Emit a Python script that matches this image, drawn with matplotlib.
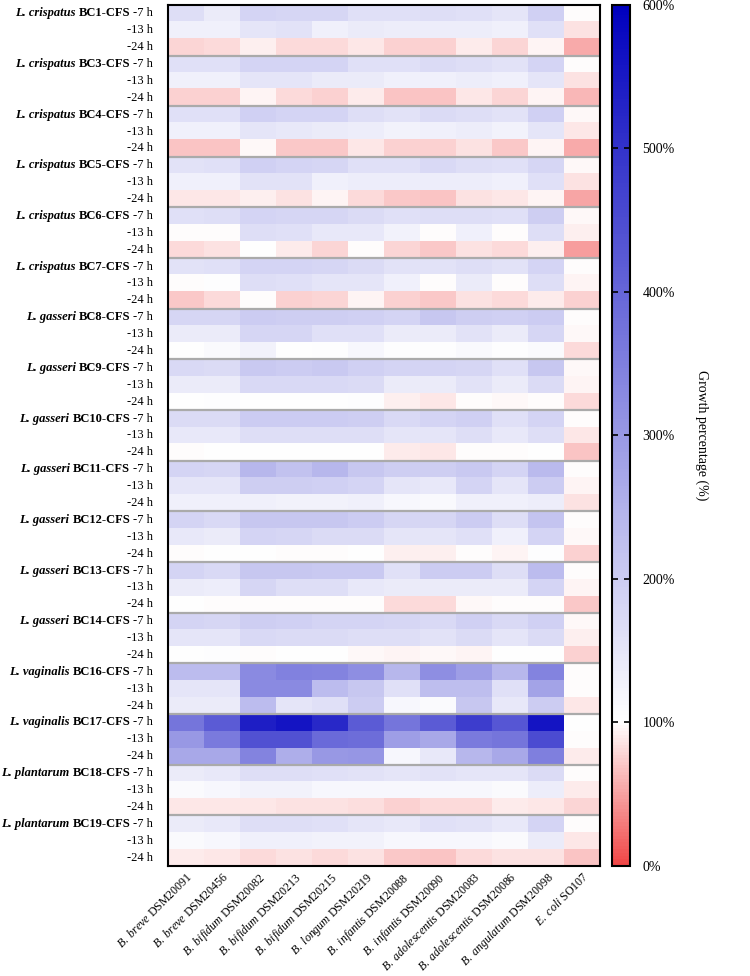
import numpy as np
import matplotlib
matplotlib.use("Agg")
import matplotlib.pyplot as plt
from matplotlib.colors import LinearSegmentedColormap
from matplotlib.transforms import offset_copy

plt.rcParams['font.family'] = ['Liberation Serif', 'DejaVu Serif']
plt.rcParams['mathtext.fontset'] = 'custom'
plt.rcParams['mathtext.rm'] = 'Liberation Serif'
plt.rcParams['mathtext.it'] = 'Liberation Serif:italic'
plt.rcParams['mathtext.bf'] = 'Liberation Serif:bold'

# ---- data ----
columns = [r"$\mathit{B.\ breve}$ DSM20091", r"$\mathit{B.\ breve}$ DSM20456",
           r"$\mathit{B.\ bifidum}$ DSM20082", r"$\mathit{B.\ bifidum}$ DSM20213",
           r"$\mathit{B.\ bifidum}$ DSM20215", r"$\mathit{B.\ longum}$ DSM20219",
           r"$\mathit{B.\ infantis}$ DSM20088", r"$\mathit{B.\ infantis}$ DSM20090",
           r"$\mathit{B.\ adolescentis}$ DSM20083", r"$\mathit{B.\ adolescentis}$ DSM20086",
           r"$\mathit{B.\ angulatum}$ DSM20098", r"$\mathit{E.\ coli}$ SO107"]

group_species = ["L. crispatus"] * 6 + ["L. gasseri"] * 7 + ["L. vaginalis"] * 2 + ["L. plantarum"] * 2
group_strains = ["BC1-CFS", "BC3-CFS", "BC4-CFS", "BC5-CFS", "BC6-CFS", "BC7-CFS",
                 "BC8-CFS", "BC9-CFS", "BC10-CFS", "BC11-CFS", "BC12-CFS", "BC13-CFS",
                 "BC14-CFS", "BC16-CFS", "BC17-CFS", "BC18-CFS", "BC19-CFS"]
times = ["-7 h", "-13 h", "-24 h"]

values = [
    # BC1
    [165, 140, 185, 180, 180, 160, 160, 165, 160, 150, 190, 100],
    [130, 130, 150, 155, 130, 140, 135, 135, 135, 130, 160, 85],
    [78, 80, 92, 82, 82, 88, 75, 75, 90, 78, 95, 55],
    # BC3
    [160, 160, 185, 185, 185, 160, 160, 170, 165, 155, 185, 100],
    [130, 130, 150, 150, 140, 140, 130, 130, 135, 130, 150, 85],
    [75, 75, 95, 80, 75, 90, 70, 70, 88, 78, 96, 62],
    # BC4
    [160, 160, 190, 185, 185, 165, 155, 170, 165, 155, 190, 98],
    [130, 130, 150, 145, 140, 135, 125, 130, 135, 125, 150, 88],
    [68, 68, 97, 72, 72, 88, 75, 75, 85, 72, 95, 55],
    # BC5
    [155, 160, 190, 185, 180, 160, 160, 175, 165, 160, 180, 98],
    [130, 130, 155, 155, 130, 135, 135, 135, 135, 130, 160, 85],
    [88, 88, 92, 85, 95, 82, 72, 70, 85, 88, 95, 52],
    # BC6
    [160, 165, 185, 180, 180, 170, 160, 165, 165, 160, 195, 97],
    [100, 100, 165, 160, 145, 145, 125, 100, 130, 100, 165, 92],
    [82, 85, 103, 90, 78, 100, 78, 72, 85, 82, 93, 48],
    # BC7
    [155, 160, 185, 185, 180, 170, 155, 155, 165, 155, 185, 100],
    [100, 105, 165, 160, 150, 150, 130, 100, 140, 100, 165, 95],
    [72, 80, 100, 75, 78, 94, 75, 72, 85, 82, 90, 75],
    # BC8
    [180, 180, 200, 195, 195, 190, 185, 210, 195, 190, 200, 100],
    [140, 140, 180, 180, 160, 160, 140, 140, 155, 140, 180, 97],
    [103, 108, 125, 102, 105, 115, 105, 105, 112, 105, 108, 82],
    # BC9
    [175, 170, 205, 200, 205, 190, 185, 185, 180, 160, 210, 97],
    [140, 140, 175, 175, 175, 170, 140, 140, 155, 140, 170, 95],
    [102, 105, 103, 102, 102, 105, 92, 88, 100, 98, 100, 80],
    # BC10
    [170, 170, 200, 200, 200, 195, 175, 185, 190, 160, 185, 100],
    [145, 145, 165, 165, 165, 165, 150, 150, 165, 145, 165, 88],
    [100, 102, 102, 101, 101, 102, 90, 88, 100, 100, 101, 70],
    # BC11
    [185, 180, 240, 220, 240, 210, 195, 195, 205, 185, 235, 100],
    [150, 150, 195, 195, 190, 185, 150, 145, 185, 150, 200, 95],
    [130, 130, 130, 125, 125, 130, 115, 112, 130, 130, 135, 85],
    # BC12
    [185, 175, 210, 210, 210, 200, 180, 180, 200, 165, 215, 100],
    [145, 140, 185, 180, 170, 170, 150, 150, 160, 130, 185, 98],
    [100, 102, 103, 100, 100, 103, 93, 92, 100, 95, 105, 75],
    # BC13
    [185, 175, 210, 210, 205, 205, 160, 200, 200, 165, 230, 100],
    [140, 135, 180, 165, 165, 145, 140, 140, 140, 140, 185, 95],
    [103, 100, 100, 100, 100, 100, 82, 82, 97, 100, 100, 72],
    # BC14
    [185, 180, 195, 190, 185, 185, 180, 175, 190, 175, 190, 98],
    [150, 150, 175, 170, 170, 165, 165, 155, 170, 150, 170, 92],
    [102, 105, 100, 102, 102, 98, 96, 97, 95, 102, 103, 75],
    # BC16
    [230, 230, 330, 345, 340, 320, 240, 320, 290, 240, 340, 100],
    [150, 150, 330, 330, 230, 210, 160, 225, 225, 160, 280, 100],
    [140, 140, 230, 150, 160, 200, 115, 110, 210, 145, 200, 88],
    # BC17
    [370, 420, 540, 560, 520, 420, 370, 420, 480, 430, 560, 102],
    [300, 360, 440, 440, 390, 385, 290, 270, 360, 370, 450, 100],
    [270, 270, 340, 260, 300, 305, 115, 145, 240, 270, 350, 90],
    # BC18
    [140, 145, 165, 165, 160, 155, 150, 155, 150, 150, 170, 100],
    [110, 115, 125, 125, 115, 115, 115, 115, 115, 110, 135, 90],
    [88, 88, 88, 85, 85, 83, 75, 80, 82, 90, 88, 78],
    # BC19
    [140, 145, 165, 165, 160, 150, 145, 160, 155, 145, 185, 100],
    [110, 115, 130, 130, 125, 125, 115, 115, 115, 110, 140, 88],
    [90, 87, 82, 85, 80, 85, 72, 70, 82, 85, 85, 70],
]
cbar_ticks = [0, 100, 200, 300, 400, 500, 600]

data = np.array(values, dtype=float)
nrows, ncols = data.shape

cmap = LinearSegmentedColormap.from_list(
    "gp", [(0.0, "#f04646"), (1 / 6, "#ffffff"), (1.0, "#0000be")])

fig = plt.figure(figsize=(7.5, 9.76), dpi=100)
ax = fig.add_axes([0.224, 0.1127, 0.576, 0.8823])
cax = fig.add_axes([0.816, 0.1127, 0.024, 0.8823])

im = ax.imshow(data, cmap=cmap, vmin=0, vmax=600, aspect='auto',
               interpolation='nearest')

for g in range(1, len(group_strains)):
    ax.axhline(g * 3 - 0.5, color='#aaaaaa', lw=1.6)

for s in ax.spines.values():
    s.set_linewidth(1.5)
    s.set_color('black')

ax.set_xticks(range(ncols))
ax.set_xticklabels(columns, rotation=45, ha='right', rotation_mode='anchor',
                   fontsize=8.6)
ax.tick_params(axis='x', length=0, pad=3)
ax.set_yticks([])

# row labels with mixed styles
fig.canvas.draw()
renderer = fig.canvas.get_renderer()
trans = ax.get_yaxis_transform()
for gi in range(len(group_strains)):
    for ti, tm in enumerate(times):
        row = gi * 3 + ti
        if ti == 0:
            parts = [(group_species[gi], 'italic', 'bold'),
                     (group_strains[gi], 'normal', 'bold'),
                     (tm, 'normal', 'normal')]
        else:
            parts = [(tm, 'normal', 'normal')]
        cur = 15
        for text, style, weight in reversed(parts):
            t = ax.text(0, row, text,
                        transform=offset_copy(trans, fig, x=-cur, units='dots'),
                        ha='right', va='center', fontsize=9.0,
                        fontstyle=style, fontweight=weight)
            bb = t.get_window_extent(renderer)
            cur += bb.width + 3

cb = fig.colorbar(im, cax=cax, ticks=cbar_ticks)
cb.ax.set_yticklabels([f"{v}%" for v in cbar_ticks], fontsize=10)
cb.ax.tick_params(direction='in', left=True, right=True, length=4, width=1.2, pad=9)
cb.outline.set_linewidth(1.5)
cb.set_label("Growth percentage (%)", rotation=270, fontsize=10, labelpad=24)

fig.savefig("out.png", dpi=100)
